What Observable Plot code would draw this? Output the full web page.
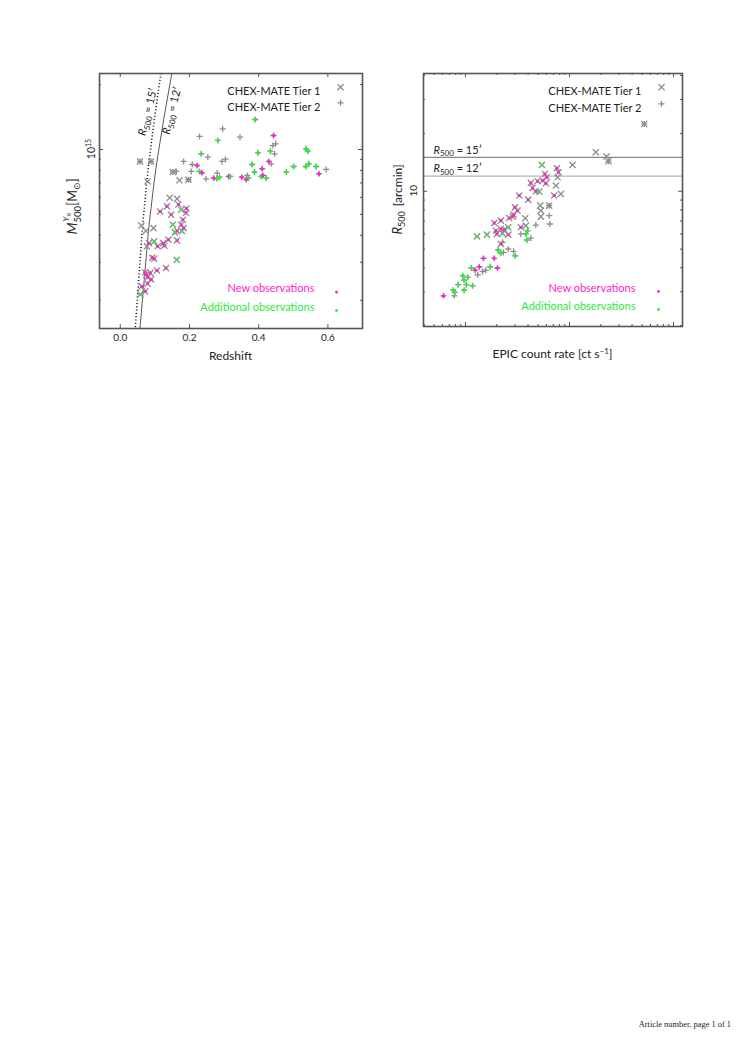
<!DOCTYPE html>
<html><head><meta charset="utf-8">
<script src="https://cdn.jsdelivr.net/npm/d3@7"></script>
<script src="https://cdn.jsdelivr.net/npm/@observablehq/plot@0.6"></script>
<style>
body{margin:0;background:#fff;}
#page{position:relative;width:748px;height:1057px;background:#fff;overflow:hidden;}
#left,#right{position:absolute;top:50px;}
#left{left:40px}
#right{left:385px}
#footer{position:absolute;left:600px;width:131px;text-align:right;top:1020px;font-family:"Liberation Serif","DejaVu Serif",serif;font-size:8.4px;color:#222;white-space:nowrap}
</style></head><body><div id="page"><div id="left"></div><div id="right"></div><div id="footer">Article number, page 1 of 1</div></div>
<script>
// ===== Left panel: redshift vs M500 (mass in units of 1e14 Msun) =====
const t1Z = [0.057,0.089,0.079,0.171,0.197,0.152,0.061,0.074,0.096,0.143,0.164,0.168,0.176,0.191,0.135,0.115,0.147,0.181,0.190,0.152,0.176,0.183,0.158,0.164,0.178,0.164,0.083,0.098,0.077,0.108,0.124,0.127,0.139,0.092,0.098,0.132,0.106,0.163,0.072,0.075,0.079,0.089,0.087,0.062,0.079,0.072,0.058];
const t1M = [8.80,8.80,7.11,7.20,7.24,7.86,4.44,4.19,4.32,5.97,5.91,5.56,5.26,5.33,5.45,5.16,4.98,4.72,5.09,4.48,4.48,4.32,4.13,4.19,4.19,3.79,3.68,3.75,3.56,3.56,3.68,3.58,3.82,3.15,3.12,2.82,2.75,3.08,2.70,2.63,2.56,2.50,2.68,2.32,2.39,2.20,2.13];
const t1Obs = ["","","","","","","","","","","","n","a","n","n","n","n","n","n","a","n","n","a","n","a","n","n","a","","n","n","n","n","n","n","n","n","a","n","n","n","n","n","n","n","n","a"];

const t2Z = [0.057,0.089,0.197,0.152,0.162,0.390,0.296,0.229,0.282,0.346,0.443,0.449,0.441,0.434,0.446,0.398,0.234,0.253,0.183,0.208,0.294,0.304,0.429,0.436,0.537,0.542,0.381,0.501,0.545,0.536,0.566,0.595,0.574,0.480,0.222,0.229,0.236,0.205,0.248,0.270,0.279,0.287,0.280,0.313,0.318,0.351,0.370,0.364,0.367,0.410,0.388,0.407,0.412,0.422];
const t2M = [8.80,8.80,7.24,7.86,7.91,13.77,12.46,11.49,11.01,11.40,11.61,10.62,10.43,9.82,9.55,9.65,9.55,9.21,8.80,8.52,8.80,9.02,8.80,8.58,10.07,9.82,8.52,8.34,8.58,8.34,8.34,8.08,7.71,7.86,8.43,7.91,7.80,7.91,7.31,7.37,7.31,7.44,7.77,7.50,7.50,7.44,7.39,7.26,7.58,8.14,7.86,7.50,7.58,7.37];
const t2Obs = ["","","","","","a","","","a","","n","","","a","","a","a","","","","","","n","","a","a","a","a","a","a","a","","n","a","n","a","n","","","n","a","a","","n","a","n","a","n","","n","a","a","n","a"];

// R500 = 15' and 12' curves
const line15Z = [0.0422,0.0646,0.0768,0.0832,0.0990,0.1200];
const line15M = [1.40,4.44,7.11,8.80,14.0,24.0];
const line12Z = [0.0555,0.0830,0.0980,0.1060,0.1262,0.1520];
const line12M = [1.40,4.44,7.11,8.80,14.0,24.0];

const leftXTicks = [0,0.2,0.4,0.6];
const leftXTickLabels = ["0.0","0.2","0.4","0.6"];
const leftYMajor = [10];
const leftYMinor = [2,3,4,5,6,7,8,9,20];

// ===== Right panel: EPIC count rate vs R500 (arcmin) =====
const r1Rate = [52.3,17.9,22.7,23.7,10.7,5.43,7.57,7.85,7.68,5.80,6.06,5.51,4.93,4.25,4.42,4.75,5.12,5.93,7.40,7.13,8.27,3.29,4.01,2.99,3.17,2.90,5.23,6.38,5.31,5.31,1.89,2.19,2.63,1.96,2.19,2.36,2.58,2.00,2.27,2.58,1.29,1.61,3.75,3.81,3.41,2.84,2.19];
const r1R = [22.4,15.97,15.16,14.34,13.72,13.72,13.18,12.56,11.83,12.31,11.83,11.37,11.28,11.06,10.41,10.0,9.96,11.01,10.71,9.50,9.69,9.50,9.05,8.26,7.93,7.56,8.42,8.42,7.93,7.38,6.84,7.04,7.26,6.24,6.37,6.32,6.50,6.00,6.04,5.95,5.83,5.95,7.24,6.63,6.50,7.38,5.32];
const r1Obs = ["","","","","","a","n","n","","n","n","n","n","n","n","n","a","n","","n","","n","n","n","n","n","","","","","n","n","n","n","n","n","a","n","a","n","a","a","","","n","n","n"];

const r2Rate = [52.3,23.7,6.38,6.38,4.75,6.48,3.41,3.95,3.81,3.89,4.25,2.27,2.06,2.19,2.32,2.58,2.90,3.01,1.49,1.89,1.14,1.24,1.36,1.46,1.57,1.73,2.03,0.94,1.05,1.31,0.97,0.85,1.02,1.17,0.76,0.97,0.78,0.615,0.79];
const r2R = [22.4,14.34,8.42,7.47,6.67,6.76,6.00,6.24,6.00,5.58,5.71,5.43,4.95,4.76,4.81,5.01,4.87,4.62,4.48,4.48,3.99,3.89,4.05,3.82,3.89,4.05,3.99,3.64,3.57,3.68,3.45,3.27,3.27,3.23,3.06,3.06,2.86,2.86,2.98];
const r2Obs = ["","","","","","","","a","a","a","","","a","a","","","","a","n","n","a","n","n","","","a","n","a","a","","a","a","a","a","a","a","","n","a"];

const rLines = [15,12];
const rightXTicks = [1,10,100];
const rightXTickLabels = ["1","10","100"];
const rightXMinor = [0.4,0.5,0.6,0.7,0.8,0.9,2,3,4,5,6,7,8,9,20,30,40,50,60,70,80,90];
const rightYMajor = [10];
const rightYMinor = [2,3,4,5,6,7,8,9,20,30,40];

// ===== styling =====
const FONT = "Lato, 'Open Sans', sans-serif";
const GRAY = "#8c8c8c";
const MAG = "#ff22cc";
const GRN = "#2eea3a";
const AX = "#555";
const obsColor = o => o === "n" ? MAG : GRN;

const rec = (xs, ys, os) => xs.map((x, i) => ({x, y: ys[i], obs: os[i]}));

function frameTicks(xMaj, xMin, yMaj, yMin, W, H) {
  const s = {stroke: AX, strokeWidth: 1};
  const m = [];
  m.push(Plot.tickX(xMaj, {x: d => d, insetTop: H - 4, ...s}));
  m.push(Plot.tickX(xMaj, {x: d => d, insetBottom: H - 4, ...s}));
  if (xMin.length) {
    m.push(Plot.tickX(xMin, {x: d => d, insetTop: H - 2, ...s}));
    m.push(Plot.tickX(xMin, {x: d => d, insetBottom: H - 2, ...s}));
  }
  m.push(Plot.tickY(yMaj, {y: d => d, insetRight: W - 4, ...s}));
  m.push(Plot.tickY(yMaj, {y: d => d, insetLeft: W - 4, ...s}));
  m.push(Plot.tickY(yMin, {y: d => d, insetRight: W - 2, ...s}));
  m.push(Plot.tickY(yMin, {y: d => d, insetLeft: W - 2, ...s}));
  return m;
}

function pointMarks(T1, T2) {
  const c1 = T1.filter(d => d.obs), c2 = T2.filter(d => d.obs);
  return [
    Plot.dot(T1, {x: "x", y: "y", symbol: "times", r: 2.9, stroke: GRAY, strokeWidth: 1.3}),
    Plot.dot(T2, {x: "x", y: "y", symbol: "plus", r: 2.1, stroke: GRAY, strokeWidth: 1.3}),
    Plot.dot(c2, {x: "x", y: "y", symbol: "plus", r: 1.5, stroke: d => obsColor(d.obs), strokeWidth: 1.3}),
    Plot.dot(c1.concat(c2), {x: "x", y: "y", r: 1.5, fill: d => obsColor(d.obs), stroke: "none"})
  ];
}

function legendMarks(top, bottom) {
  return [
    Plot.text(["CHEX-MATE Tier 1"], {frameAnchor: "top-right", dx: top.tx, dy: top.y1, textAnchor: "end", fontSize: 11, fill: "#222"}),
    Plot.text(["CHEX-MATE Tier 2"], {frameAnchor: "top-right", dx: top.tx, dy: top.y2, textAnchor: "end", fontSize: 11, fill: "#222"}),
    Plot.dot([0], {frameAnchor: "top-right", dx: top.mx, dy: top.y1, symbol: "times", r: 2.9, stroke: GRAY, strokeWidth: 1.3}),
    Plot.dot([0], {frameAnchor: "top-right", dx: top.mx, dy: top.y2, symbol: "plus", r: 2.1, stroke: GRAY, strokeWidth: 1.3}),
    Plot.text(["New observations"], {frameAnchor: "bottom-right", dx: bottom.tx, dy: bottom.y1, textAnchor: "end", fontSize: 11, fill: MAG}),
    Plot.text(["Additional observations"], {frameAnchor: "bottom-right", dx: bottom.tx, dy: bottom.y2, textAnchor: "end", fontSize: 11, fill: GRN}),
    Plot.dot([0], {frameAnchor: "bottom-right", dx: bottom.mx, dy: bottom.y1, r: 1.4, fill: MAG}),
    Plot.dot([0], {frameAnchor: "bottom-right", dx: bottom.mx, dy: bottom.y2, r: 1.4, fill: GRN})
  ];
}

// rich text helper (sub/superscripts via tspans)
function rich(svg, cx, cy, parts, {rotate = 0, anchor = "middle", size = 11, fill = "#222"} = {}) {
  const g = svg.append("g").attr("transform", `translate(${cx},${cy}) rotate(${rotate})`);
  const t = g.append("text").attr("x", 0).attr("y", size * 0.35)
    .attr("text-anchor", anchor).attr("font-family", FONT).attr("font-size", size).attr("fill", fill);
  for (const p of parts) {
    const s = t.append("tspan").text(p.t);
    if (p.i) s.attr("font-style", "italic");
    if (p.s) s.attr("font-size", p.s);
    if (p.dy) s.attr("dy", p.dy);
    if (p.dx) s.attr("dx", p.dx);
  }
  return t;
}

// ===== Left plot =====
const LW = 340, LH = 330, LML = 59, LMT = 23, LMR = 18, LMB = 52;
const LIW = LW - LML - LMR, LIH = LH - LMT - LMB;
const L1 = rec(t1Z, t1M, t1Obs), L2 = rec(t2Z, t2M, t2Obs);
const left = Plot.plot({
  width: LW, height: LH, marginLeft: LML, marginTop: LMT, marginRight: LMR, marginBottom: LMB,
  style: {fontFamily: FONT, fontSize: "10px", color: "#222", background: "transparent"},
  x: {type: "linear", domain: [-0.06, 0.7], axis: null},
  y: {type: "log", domain: [1.48, 22.5], axis: null},
  marks: [
    ...frameTicks(leftXTicks, [], leftYMajor, leftYMinor, LIW, LIH),
    Plot.line(line15Z.map((z, i) => ({x: z, y: line15M[i]})), {x: "x", y: "y", stroke: "#111", strokeWidth: 1.5, strokeDasharray: "1.1,2.2", strokeLinecap: "butt", clip: true}),
    Plot.line(line12Z.map((z, i) => ({x: z, y: line12M[i]})), {x: "x", y: "y", stroke: "#444", strokeWidth: 0.9, clip: true}),
    ...pointMarks(L1, L2),
    ...legendMarks({tx: -42, mx: -22, y1: 13.7, y2: 29.3}, {tx: -48, mx: -26, y1: -36.3, y2: -18}),
    Plot.axisX({ticks: leftXTicks, tickFormat: (d, i) => leftXTickLabels[i], tickSize: 0, tickPadding: 5, label: null, fontSize: 10}),
    Plot.frame({stroke: AX, strokeWidth: 1.6})
  ]
});
document.getElementById("left").appendChild(left);
{
  const svg = d3.select(left);
  const xs = left.scale("x"), ys = left.scale("y");
  rich(svg, LML + LIW / 2, LMT + LIH + 28, [{t: "Redshift"}], {size: 12});
  rich(svg, 33, LMT + LIH / 2 + 6, [
    {t: "M", i: 1, s: 14},
    {t: "500", s: 9.5, dy: 3.5},
    {t: "Y", i: 1, s: 8.5, dx: -15.5, dy: -11.5},
    {t: "X", s: 6, dy: 1.8},
    {t: "[M", s: 12.5, dx: 7, dy: 6.2},
    {t: "⊙", s: 8.5, dy: 2.5},
    {t: "]", s: 12.5, dy: -2.5}
  ], {rotate: -90, size: 12.5});
  for (const v of leftYMajor) {
    rich(svg, LML - 7.5, ys.apply(v), [{t: "10", s: 10.5}, {t: "15", s: 7, dy: -4.5}], {rotate: -90, size: 10.5});
  }
  rich(svg, xs.apply(0.080), ys.apply(14.9), [{t: "R", i: 1}, {t: "500", s: 8, dy: 2.5}, {t: " = 15′", dy: -2.5}], {rotate: -76, size: 11});
  rich(svg, xs.apply(0.150), ys.apply(15.1), [{t: "R", i: 1}, {t: "500", s: 8, dy: 2.5}, {t: " = 12′", dy: -2.5}], {rotate: -76, size: 11});
}

// ===== Right plot =====
const RW = 340, RH = 330, RML = 38, RMT = 23, RMR = 43, RMB = 54;
const RIW = RW - RML - RMR, RIH = RH - RMT - RMB;
const R1 = rec(r1Rate, r1R, r1Obs), R2 = rec(r2Rate, r2R, r2Obs);
const right = Plot.plot({
  width: RW, height: RH, marginLeft: RML, marginTop: RMT, marginRight: RMR, marginBottom: RMB,
  style: {fontFamily: FONT, fontSize: "10px", color: "#222", background: "transparent"},
  x: {type: "log", domain: [0.395, 122], axis: null},
  y: {type: "log", domain: [1.98, 41], axis: null},
  marks: [
    ...frameTicks(rightXTicks, rightXMinor, rightYMajor, rightYMinor, RIW, RIH),
    Plot.ruleY([rLines[0]], {stroke: "#888", strokeWidth: 1.2}),
    Plot.ruleY([rLines[1]], {stroke: "#b5b5b5", strokeWidth: 1.2}),
    ...pointMarks(R1, R2),
    ...legendMarks({tx: -41, mx: -21, y1: 13.7, y2: 30.3}, {tx: -47, mx: -24, y1: -35, y2: -17}),
    Plot.axisX({ticks: rightXTicks, tickFormat: (d, i) => rightXTickLabels[i], tickSize: 0, tickPadding: 4, label: null, fontSize: 10}),
    Plot.frame({stroke: AX, strokeWidth: 1.6})
  ]
});
document.getElementById("right").appendChild(right);
{
  const svg = d3.select(right);
  const ys = right.scale("y");
  rich(svg, RML + RIW / 2, RMT + RIH + 28, [{t: "EPIC count rate [ct s"}, {t: "−1", s: 8, dy: -4.5}, {t: "]", dy: 4.5}], {size: 12});
  rich(svg, 13, RMT + RIH / 2, [{t: "R", i: 1, s: 13}, {t: "500", s: 9, dy: 3}, {t: "[arcmin]", s: 12, dx: 5, dy: -3}], {rotate: -90, size: 12});
  for (const v of rightYMajor) rich(svg, RML - 10, ys.apply(v), [{t: "10"}], {rotate: -90, size: 10});
  rich(svg, RML + 10.5, ys.apply(rLines[0]) - 7, [{t: "R", i: 1}, {t: "500", s: 8, dy: 2.5}, {t: " = 15′", dy: -2.5}], {anchor: "start", size: 11});
  rich(svg, RML + 10.5, ys.apply(rLines[1]) - 7, [{t: "R", i: 1}, {t: "500", s: 8, dy: 2.5}, {t: " = 12′", dy: -2.5}], {anchor: "start", size: 11});
}
</script>
</body></html>
